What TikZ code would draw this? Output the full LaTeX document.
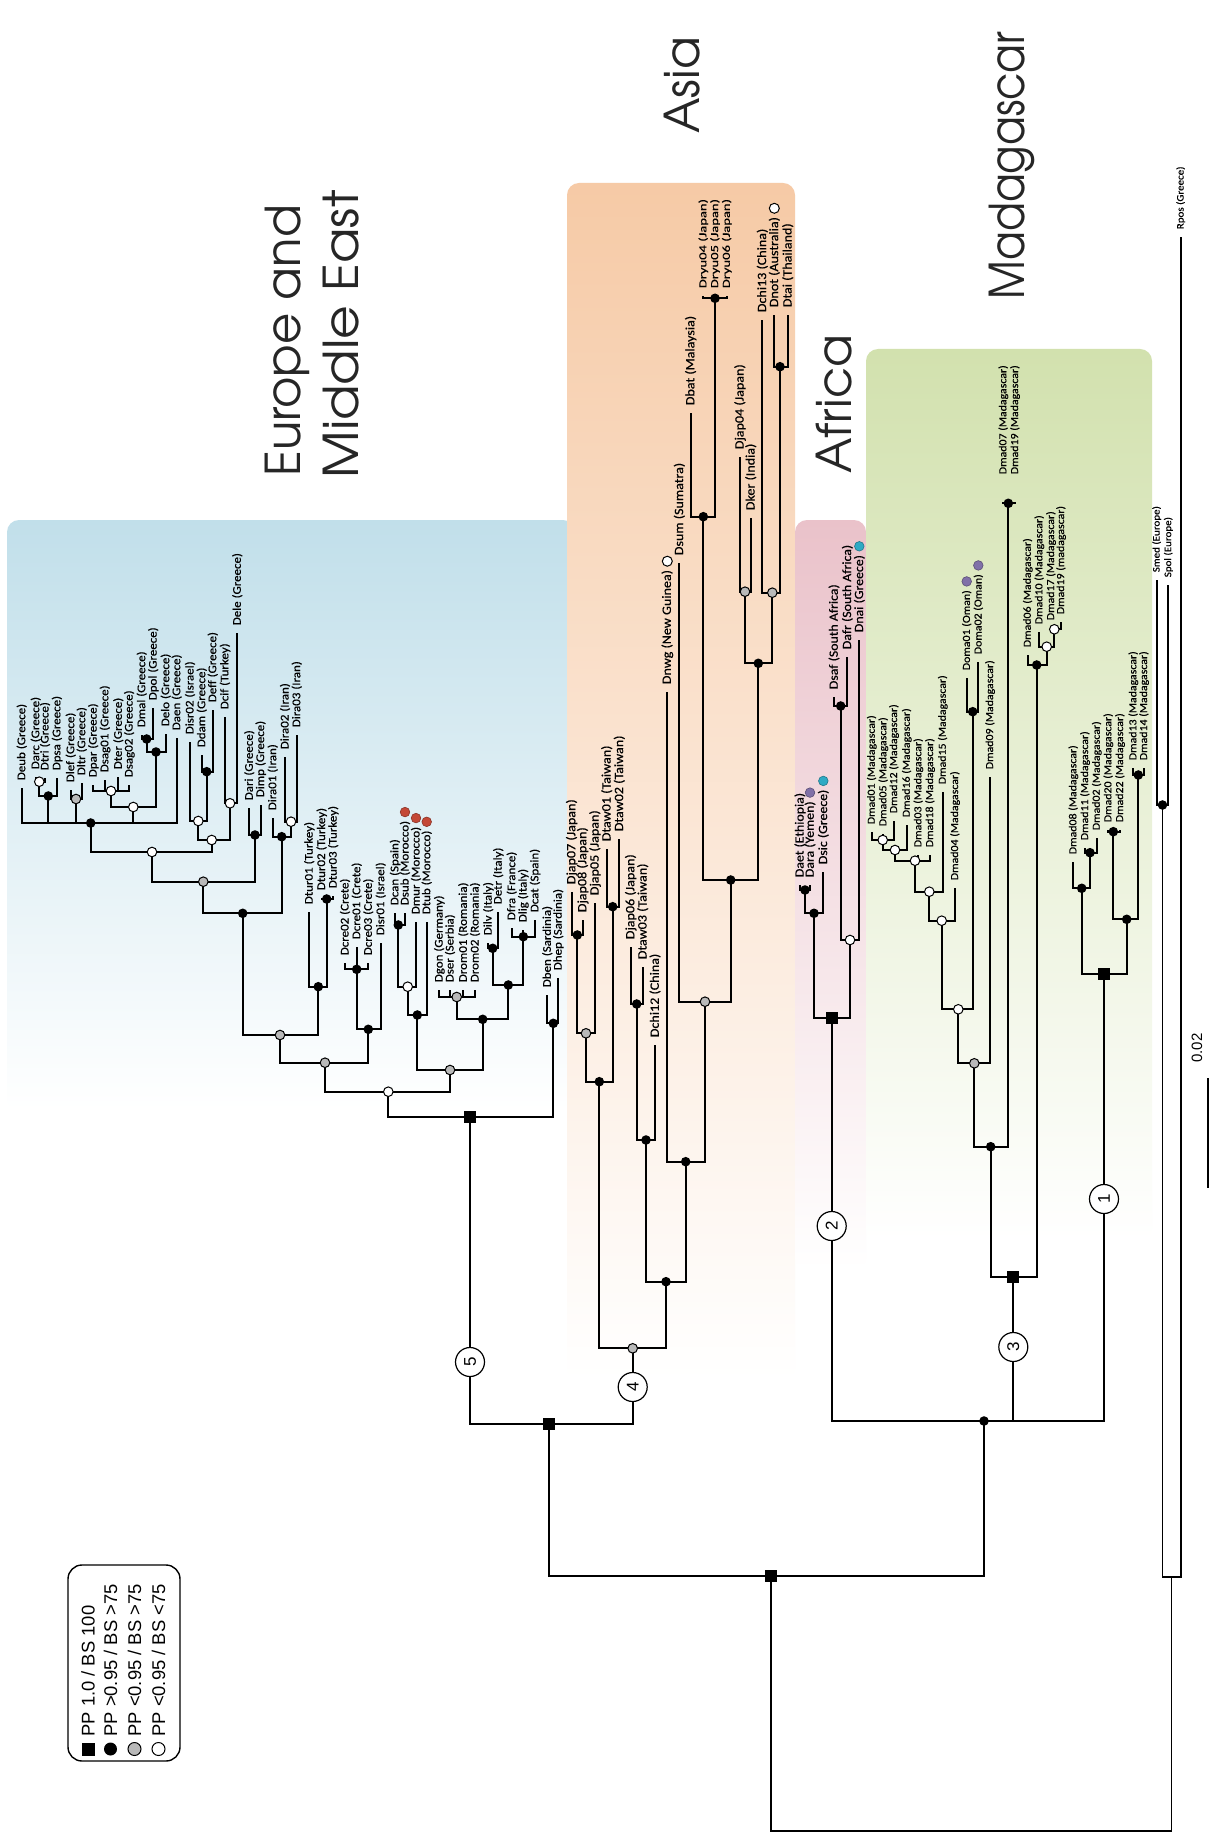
\documentclass[tikz,border=0pt]{standalone}
\usepackage{fontspec}
\setmainfont{Carlito}
\newfontfamily\labf[FakeStretch=1.1,FakeBold=0.5]{Carlito}
\newfontfamily\labw[FakeStretch=1.35,FakeBold=0.5]{Carlito}
\newfontfamily\arialf{Liberation Sans}
\newfontfamily\bigf{texgyreadventor-regular.otf}
\newfontfamily\bigfn[FakeStretch=0.88]{texgyreadventor-regular.otf}
\newfontfamily\bigfw[FakeStretch=1.08]{texgyreadventor-regular.otf}
\usetikzlibrary{calc}
\definecolor{eu}{RGB}{193,223,234}
\definecolor{as}{RGB}{246,202,166}
\definecolor{af}{RGB}{234,194,202}
\definecolor{ma}{RGB}{210,225,174}
\definecolor{redd}{RGB}{196,72,54}
\definecolor{purp}{RGB}{128,112,168}
\definecolor{cyanc}{RGB}{46,170,196}
\newcommand\tipx[6][0]{\coordinate (#2) at (#3,#4);\node[#5] (L#2) at ($(#2)+(0,-5-#1)$) {#6};}
\newcommand\edg[2]{\draw[tree] (#1) -| (#2);}
\newcommand\edt[2]{\draw[treethin] (#1) -| (#2);}
\newcommand\dotc[2]{\node[circle, fill=#2, draw=#2!70!black, line width=0.3pt, minimum size=4.8pt, inner sep=0pt] at ($(L#1.east)+(0,-6)$) {};}
\begin{document}
\begin{tikzpicture}[x=0.5pt,y=-0.5pt,
  tree/.style={line width=1.15pt, black},
  treethin/.style={line width=0.85pt, black},
  lab/.style={rotate=90, anchor=west, inner sep=1.2pt},
  labE/.style={lab, font=\labf\fontsize{5.9}{6.5}\selectfont},
  labA/.style={lab, font=\labf\fontsize{6.4}{7}\selectfont},
  labR/.style={lab, font=\labw\fontsize{5.4}{6}\selectfont},
  labF/.style={lab, font=\labf\fontsize{6.3}{7}\selectfont},
  labM/.style={lab, font=\labf\fontsize{5.4}{6}\selectfont},
  labO/.style={lab, font=\labf\fontsize{5}{6}\selectfont},
  bigt/.style={rotate=90, anchor=base west, inner sep=0pt, font=\bigf\fontsize{24}{27}\selectfont, black!85},
  sqm/.style={rectangle, fill=black, minimum size=6pt, inner sep=0pt},
  bcm/.style={circle, fill=black, minimum size=4.8pt, inner sep=0pt},
  gcm/.style={circle, fill=gray!55, draw=black, line width=0.5pt, minimum size=4.8pt, inner sep=0pt},
  wcm/.style={circle, fill=white, draw=black, line width=0.5pt, minimum size=4.8pt, inner sep=0pt},
  numc/.style={circle, draw=black, fill=white, line width=0.6pt, minimum size=14.5pt, inner sep=0pt, rotate=90, font=\arialf\fontsize{8.5}{9}\selectfont},
  legt/.style={rotate=90, anchor=west, inner sep=0pt, font=\arialf\fontsize{9.2}{10}\selectfont}]
\useasboundingbox (0,0) rectangle (1216,1834);
\fill[white] (0,0) rectangle (1216,1834);
% backgrounds
\shade[top color=eu, middle color=eu!55!white, bottom color=white, rounded corners=6pt] (7,520) rectangle (575,1110);
\shade[top color=as, middle color=as!55!white, bottom color=white, rounded corners=6pt] (567,183) rectangle (795,1380);
\shade[top color=af, middle color=af!55!white, bottom color=white, rounded corners=6pt] (795,520) rectangle (866,1270);
\shade[top color=ma, middle color=ma!55!white, bottom color=white, rounded corners=6pt] (866,349) rectangle (1152,1240);
% region titles
\node[bigt] (tEu1) at (300,477) {Europe and};
\node[bigt, font=\bigfw\fontsize{24}{27}\selectfont] (tEu2) at (358,479) {Middle East};
\node[bigt] (tAs) at (699,134) {Asia};
\node[bigt] (tAf) at (851,474) {Africa};
\node[bigt, font=\bigfn\fontsize{24}{27}\selectfont] (tMa) at (1024,300) {Madagascar};
% ---- tips: Europe
\tipx{deub}{21.7}{788}{labE}{Deub (Greece)}
\tipx{darc}{35.7}{777}{labE}{Darc (Greece)}
\tipx{dtri}{45}{778}{labE}{Dtri (Greece)}
\tipx{dpsa}{57}{778}{labE}{Dpsa (Greece)}
\tipx{dlef}{70.7}{790}{labE}{Dlef (Greece)}
\tipx{dltr}{81.7}{783}{labE}{Dltr (Greece)}
\tipx{dpar}{93.3}{785}{labE}{Dpar (Greece)}
\tipx{dsag01}{105}{780}{labE}{Dsag01 (Greece)}
\tipx{dter}{118.3}{777}{labE}{Dter (Greece)}
\tipx{dsag02}{129.3}{785}{labE}{Dsag02 (Greece)}
\tipx{dmal}{141.7}{735}{labE}{Dmal (Greece)}
\tipx{dpol}{153.3}{708}{labE}{Dpol (Greece)}
\tipx{delo}{165.7}{734}{labE}{Delo (Greece)}
\tipx{daen}{176.7}{738}{labE}{Daen (Greece)}
\tipx{disr02}{190}{742}{labE}{Disr02 (Israel)}
\tipx{ddam}{201.7}{755}{labE}{Ddam (Greece)}
\tipx{deff}{212.7}{710}{labE}{Deff (Greece)}
\tipx{dcif}{225}{717}{labE}{Dcif (Turkey)}
\tipx{dele}{237.3}{633}{labE}{Dele (Greece)}
\tipx{dari}{249.3}{808}{labE}{Dari (Greece)}
\tipx{dimp}{260.7}{805}{labE}{Dimp (Greece)}
\tipx{dira01}{272.7}{818}{labE}{Dira01 (Iran)}
\tipx{dira02}{285}{757}{labE}{Dira02 (Iran)}
\tipx{dira03}{296.7}{735}{labE}{Dira03 (Iran)}
\tipx{dtur01}{309.3}{912}{labE}{Dtur01 (Turkey)}
\tipx{dtur02}{321.7}{898}{labE}{Dtur02 (Turkey)}
\tipx{dtur03}{333.3}{896}{labE}{Dtur03 (Turkey)}
\tipx{dcre02}{345}{963}{labE}{Dcre02 (Crete)}
\tipx{dcre01}{356.7}{947}{labE}{Dcre01 (Crete)}
\tipx{dcre03}{368.3}{963}{labE}{Dcre03 (Crete)}
\tipx{disr01}{380.7}{943}{labE}{Disr01 (Israel)}
\tipx{dcan}{395}{913}{labE}{Dcan (Spain)}
\tipx{dsub}{405}{913}{labE}{Dsub (Morocco)}
\tipx{dmur}{416}{922}{labE}{Dmur (Morocco)}
\tipx{dtub}{426.7}{922}{labE}{Dtub (Morocco)}
\tipx{dgon}{439.3}{990}{labE}{Dgon (Germany)}
\tipx{dser}{450}{990}{labE}{Dser (Serbia)}
\tipx{drom01}{463.3}{990}{labE}{Drom01 (Romania)}
\tipx{drom02}{475}{990}{labE}{Drom02 (Romania)}
\tipx{dilv}{488.3}{943}{labE}{Dilv (Italy)}
\tipx{detr}{498.3}{912}{labE}{Detr (Italy)}
\tipx{dfra}{511.7}{928}{labE}{Dfra (France)}
\tipx{dlig}{523.3}{930}{labE}{Dlig (Italy)}
\tipx{dcat}{535}{920}{labE}{Dcat (Spain)}
\tipx{dben}{547.3}{995}{labE}{Dben (Sardinia)}
\tipx{dhep}{558.3}{978}{labE}{Dhep (Sardinia)}
% ---- tips: Asia
\tipx{djap07}{571.7}{892}{labA}{Djap07 (Japan)}
\tipx{djap08}{582.7}{920}{labA}{Djap08 (Japan)}
\tipx{djap05}{595}{903}{labA}{Djap05 (Japan)}
\tipx{dtaw01}{606.7}{849}{labA}{Dtaw01 (Taiwan)}
\tipx{dtaw02}{619.3}{839}{labA}{Dtaw02 (Taiwan)}
\tipx{djap06}{630.7}{947}{labA}{Djap06 (Japan)}
\tipx{dtaw03}{642.7}{967}{labA}{Dtaw03 (Taiwan)}
\tipx{dchi12}{655}{1045}{labA}{Dchi12 (China)}
\tipx{dnwg}{667.3}{692}{labA}{Dnwg (New Guinea)}
\tipx{dsum}{679.3}{563}{labA}{Dsum (Sumatra)}
\tipx{dbat}{690.7}{413}{labA}{Dbat (Malaysia)}
\tipx{dryu04}{703.3}{296}{labR}{Dryu04 (Japan)}
\tipx{dryu05}{715}{296}{labR}{Dryu05 (Japan)}
\tipx{dryu06}{726.7}{296}{labR}{Dryu06 (Japan)}
\tipx{djap04}{740}{457}{labA}{Djap04 (Japan)}
\tipx{dker}{750.7}{518}{labA}{Dker (India)}
\tipx{dchi13}{762.3}{320}{labA}{Dchi13 (China)}
\tipx{dnot}{774.3}{315}{labA}{Dnot (Australia)}
\tipx{dtai}{787.7}{315}{labA}{Dtai (Thailand)}
% ---- tips: Africa
\tipx{daet}{800}{885}{labF}{Daet (Ethiopia)}
\tipx{dara}{810}{885}{labF}{Dara (Yemen)}
\tipx{dsic}{823.3}{872}{labF}{Dsic (Greece)}
\tipx{dsaf}{834}{697}{labF}{Dsaf (South Africa)}
\tipx{dafr}{847.3}{657}{labF}{Dafr (South Africa)}
\tipx{dnai}{859.3}{640}{labF}{Dnai (Greece)}
% ---- tips: Madagascar
\tipx{dmad01}{871.7}{832}{labM}{Dmad01 (Madagascar)}
\tipx{dmad05}{883.3}{834}{labM}{Dmad05 (Madagascar)}
\tipx{dmad12}{894}{821}{labM}{Dmad12 (Madagascar)}
\tipx{dmad16}{906.7}{825}{labM}{Dmad16 (Madagascar)}
\tipx{dmad03}{918.3}{855}{labM}{Dmad03 (Madagascar)}
\tipx{dmad18}{930}{855}{labM}{Dmad18 (Madagascar)}
\tipx{dmad15}{942.7}{792}{labM}{Dmad15 (Madagascar)}
\tipx{dmad04}{955}{888}{labM}{Dmad04 (Madagascar)}
\tipx{doma01}{966.7}{678}{labM}{Doma01 (Oman)}
\tipx{doma02}{978.3}{662}{labM}{Doma02 (Oman)}
\tipx{dmad09}{990}{777}{labM}{Dmad09 (Madagascar)}
\tipx[20]{dmad07}{1003.3}{502}{labM}{Dmad07 (Madagascar)}
\tipx[20]{dmad19a}{1015}{502}{labM}{Dmad19 (Madagascar)}
\tipx{dmad06}{1027.7}{655}{labM}{Dmad06 (Madagascar)}
\tipx{dmad10}{1039.3}{632}{labM}{Dmad10 (Madagascar)}
\tipx{dmad17}{1051}{628}{labM}{Dmad17 (Madagascar)}
\tipx{dmad19b}{1061}{622}{labM}{Dmad19 (madagascar)}
\tipx{dmad08}{1073.3}{862}{labM}{Dmad08 (Madagascar)}
\tipx{dmad11}{1085}{848}{labM}{Dmad11 (Madagascar)}
\tipx{dmad02}{1096.7}{838}{labM}{Dmad02 (Madagascar)}
\tipx{dmad20}{1108.3}{830}{labM}{Dmad20 (Madagascar)}
\tipx{dmad22}{1120}{830}{labM}{Dmad22 (Madagascar)}
\tipx{dmad13}{1133.3}{768}{labM}{Dmad13 (Madagascar)}
\tipx{dmad14}{1144}{768}{labM}{Dmad14 (Madagascar)}
\tipx{smed}{1156.7}{580}{labO}{Smed (Europe)}
\tipx{spol}{1168.3}{585}{labO}{Spol (Europe)}
\tipx{rpos}{1180.7}{237}{labO}{Rpos (Greece)}
% ---- internal nodes
\coordinate (e1) at (39.3,781.7);
\coordinate (e2) at (48.3,796);
\coordinate (e3) at (76,799);
\coordinate (e4) at (111,791);
\coordinate (e5) at (146.7,739);
\coordinate (e6) at (156,752);
\coordinate (e7) at (133.3,807);
\coordinate (e8) at (90.7,823);
\coordinate (e9) at (206.7,771.7);
\coordinate (e10) at (198.3,821);
\coordinate (e11) at (230,803.3);
\coordinate (e12) at (211.7,840);
\coordinate (e13) at (152,852);
\coordinate (e14) at (255,835);
\coordinate (e15) at (291,821.7);
\coordinate (e16) at (281.7,836.7);
\coordinate (e17) at (203.3,881.7);
\coordinate (e18) at (242.7,913.3);
\coordinate (e19) at (326.7,899);
\coordinate (e20) at (318.3,986.7);
\coordinate (e21) at (280,1035);
\coordinate (e22) at (356.7,969.3);
\coordinate (e23) at (368.3,1029.3);
\coordinate (e24) at (325,1062.7);
\coordinate (e25) at (398.3,925);
\coordinate (e26) at (407.7,986.7);
\coordinate (e27) at (417.3,1015);
\coordinate (e28) at (456.7,997);
\coordinate (e29) at (492.7,948.3);
\coordinate (e30) at (523.3,936.7);
\coordinate (e31) at (508.3,985);
\coordinate (e32) at (482.7,1019.3);
\coordinate (e33) at (450,1070);
\coordinate (e34) at (388.3,1091.7);
\coordinate (e35) at (553.3,1023.3);
\coordinate (e36) at (470,1117.3);
\coordinate (t1) at (549,1424);
\coordinate (a1) at (577.3,935);
\coordinate (a2) at (586,1033.3);
\coordinate (a3) at (612.7,906.7);
\coordinate (a4) at (599.3,1081.7);
\coordinate (a5) at (636.7,1004);
\coordinate (a6) at (646,1140);
\coordinate (a7) at (715,298.3);
\coordinate (a8) at (703.3,516.7);
\coordinate (a9) at (745,591.7);
\coordinate (a10) at (780,366.7);
\coordinate (a11) at (772.3,592.7);
\coordinate (a12) at (758.3,663.3);
\coordinate (a13) at (730.7,880);
\coordinate (a14) at (705,1001.7);
\coordinate (a15) at (685.7,1161.7);
\coordinate (a16) at (666,1281.7);
\coordinate (a17) at (632.7,1348.3);
\coordinate (f1) at (805,890);
\coordinate (f2) at (814,913.3);
\coordinate (f3) at (840.7,706);
\coordinate (f4) at (850,940);
\coordinate (f5) at (831.7,1018.3);
\coordinate (m1) at (882.7,840);
\coordinate (m2) at (895,850);
\coordinate (m3) at (915,860.7);
\coordinate (m4) at (929.3,891.7);
\coordinate (m5) at (941.7,920.7);
\coordinate (m6) at (972.7,711.7);
\coordinate (m7) at (958.3,1009.3);
\coordinate (m8) at (974.3,1063.3);
\coordinate (m9) at (1008.3,503.3);
\coordinate (m10) at (990.7,1146.7);
\coordinate (m11) at (1054.3,629.3);
\coordinate (m12) at (1046.7,646.7);
\coordinate (m13) at (1036.7,665);
\coordinate (m14) at (1013.3,1277.3);
\coordinate (n1) at (1090,852.7);
\coordinate (n2) at (1081.7,888.3);
\coordinate (n3) at (1113.3,831.7);
\coordinate (n4) at (1138.3,775);
\coordinate (n5) at (1126.7,919.3);
\coordinate (n6) at (1104,974);
\coordinate (am) at (984,1421);
\coordinate (rt) at (771,1576);
\coordinate (o1) at (1162.5,805);
\coordinate (o2) at (1171.5,1577);
\coordinate (root) at (971,1831);
% ---- edges
\edg{e1}{darc}\edg{e1}{dtri}
\edg{e2}{e1}\edg{e2}{dpsa}
\edg{e3}{dlef}\edg{e3}{dltr}
\edg{e4}{dpar}\edg{e4}{dsag01}\edg{e4}{dter}\edg{e4}{dsag02}
\edg{e5}{dmal}\edg{e5}{dpol}
\edg{e6}{e5}\edg{e6}{delo}
\edg{e7}{e4}\edg{e7}{e6}
\edg{e8}{deub}\edg{e8}{e2}\edg{e8}{e3}\edg{e8}{e7}\edg{e8}{daen}
\edg{e9}{ddam}\edg{e9}{deff}
\edg{e10}{disr02}\edg{e10}{e9}
\edg{e11}{dcif}\edg{e11}{dele}
\edg{e12}{e10}\edg{e12}{e11}
\edg{e13}{e8}\edg{e13}{e12}
\edg{e14}{dari}\edg{e14}{dimp}
\edg{e15}{dira02}\edg{e15}{dira03}
\edg{e16}{dira01}\edg{e16}{e15}
\edg{e17}{e13}\edg{e17}{e14}
\edg{e18}{e17}\edg{e18}{e16}
\edg{e19}{dtur02}\edg{e19}{dtur03}
\edg{e20}{dtur01}\edg{e20}{e19}
\edg{e21}{e18}\edg{e21}{e20}
\edg{e22}{dcre02}\edg{e22}{dcre01}\edg{e22}{dcre03}
\edg{e23}{e22}\edg{e23}{disr01}
\edg{e24}{e21}\edg{e24}{e23}
\edg{e25}{dcan}\edg{e25}{dsub}
\edg{e26}{e25}\edg{e26}{dmur}
\edg{e27}{e26}\edg{e27}{dtub}
\edg{e28}{dgon}\edg{e28}{dser}\edg{e28}{drom01}\edg{e28}{drom02}
\edg{e29}{dilv}\edg{e29}{detr}
\edg{e30}{dfra}\edg{e30}{dlig}\edg{e30}{dcat}
\edg{e31}{e29}\edg{e31}{e30}
\edg{e32}{e28}\edg{e32}{e31}
\edg{e33}{e27}\edg{e33}{e32}
\edg{e34}{e24}\edg{e34}{e33}
\edg{e35}{dben}\edg{e35}{dhep}
\edg{e36}{e34}\edg{e36}{e35}
\edt{t1}{e36}\edt{t1}{a17}
\edg{a1}{djap07}\edg{a1}{djap08}
\edg{a2}{a1}\edg{a2}{djap05}
\edg{a3}{dtaw01}\edg{a3}{dtaw02}
\edg{a4}{a2}\edg{a4}{a3}
\edg{a5}{djap06}\edg{a5}{dtaw03}
\edg{a6}{a5}\edg{a6}{dchi12}
\edg{a7}{dryu04}\edg{a7}{dryu05}\edg{a7}{dryu06}
\edg{a8}{dbat}\edg{a8}{a7}
\edg{a9}{djap04}\edg{a9}{dker}
\edg{a10}{dnot}\edg{a10}{dtai}
\edg{a11}{dchi13}\edg{a11}{a10}
\edg{a12}{a9}\edg{a12}{a11}
\edg{a13}{a8}\edg{a13}{a12}
\edg{a14}{dsum}\edg{a14}{a13}
\edg{a15}{dnwg}\edg{a15}{a14}
\edg{a16}{a6}\edg{a16}{a15}
\edg{a17}{a4}\edg{a17}{a16}
\edg{f1}{daet}\edg{f1}{dara}
\edg{f2}{f1}\edg{f2}{dsic}
\edg{f3}{dsaf}\edg{f3}{dafr}
\edg{f4}{f3}\edg{f4}{dnai}
\edg{f5}{f2}\edg{f5}{f4}
\edg{m1}{dmad01}\edg{m1}{dmad05}\edg{m1}{dmad12}
\edg{m2}{m1}\edg{m2}{dmad16}
\edg{m3}{m2}\edg{m3}{dmad03}\edg{m3}{dmad18}
\edg{m4}{m3}\edg{m4}{dmad15}
\edg{m5}{m4}\edg{m5}{dmad04}
\edg{m6}{doma01}\edg{m6}{doma02}
\edg{m7}{m5}\edg{m7}{m6}
\edg{m8}{m7}\edg{m8}{dmad09}
\edg{m9}{dmad07}\edg{m9}{dmad19a}
\edg{m10}{m8}\edg{m10}{m9}
\edg{m11}{dmad17}\edg{m11}{dmad19b}
\edg{m12}{dmad10}\edg{m12}{m11}
\edg{m13}{dmad06}\edg{m13}{m12}
\edg{m14}{m10}\edg{m14}{m13}
\edg{n1}{dmad11}\edg{n1}{dmad02}
\edg{n2}{dmad08}\edg{n2}{n1}
\edg{n3}{dmad20}\edg{n3}{dmad22}
\edg{n4}{dmad13}\edg{n4}{dmad14}
\edg{n5}{n3}\edg{n5}{n4}
\edg{n6}{n2}\edg{n6}{n5}
\edt{am}{f5}\edt{am}{m14}\edt{am}{n6}
\edt{rt}{t1}\edt{rt}{am}
\edg{o1}{smed}\edg{o1}{spol}
\edt{o2}{o1}\edt{o2}{rpos}
\edt{root}{rt}\edt{root}{o2}
% ---- markers
\foreach \n in {e2,e5,e6,e8,e9,e14,e16,e18,e19,e20,e22,e23,e25,e27,e29,e30,e31,e32,e35,a1,a3,a4,a5,a6,a7,a8,a10,a12,a13,a15,a16,f1,f2,f3,m6,m9,m10,m13,n1,n2,n3,n4,n5,am,o1}
  \node[bcm] at (\n) {};
\foreach \n in {e3,e17,e21,e24,e28,e33,a2,a9,a11,a14,a17,m8}
  \node[gcm] at (\n) {};
\foreach \n in {e1,e4,e7,e10,e11,e12,e13,e15,e26,e34,f4,m1,m2,m3,m4,m5,m7,m11,m12}
  \node[wcm] at (\n) {};
\foreach \n in {e36,t1,f5,m14,n6,rt}
  \node[sqm] at (\n) {};
% ---- coloured dots
\dotc{dsub}{redd}\dotc{dmur}{redd}\dotc{dtub}{redd}
\dotc{dara}{purp}\dotc{doma01}{purp}\dotc{doma02}{purp}
\dotc{dsic}{cyanc}\dotc{dnai}{cyanc}
\node[wcm, minimum size=5pt] at ($(Ldnwg.east)+(0,-6)$) {};
\node[wcm, minimum size=5pt] at ($(Ldnot.east)+(0,-6)$) {};
% ---- numbered clades
\node[numc] (c5) at (470,1362) {5};
\node[numc] (c4) at (632.7,1387) {4};
\node[numc] (c2) at (831.7,1226) {2};
\node[numc] (c3) at (1013.3,1347) {3};
\node[numc] (c1) at (1104,1199) {1};
% ---- scale bar
\draw[line width=0.9pt] (1208,1078) -- (1208,1188);
\node[rotate=90, font=\arialf\fontsize{7.5}{8}\selectfont, inner sep=0pt] (sc) at (1197,1048) {0.02};
% ---- legend
\draw[line width=0.7pt, rounded corners=7pt] (68,1565) rectangle (180,1761);
\node[sqm, minimum size=6.5pt] at (88,1749) {};
\node[bcm, minimum size=6.5pt] at (110.5,1749) {};
\node[gcm, minimum size=6.5pt] at (134.5,1749) {};
\node[wcm, minimum size=6.5pt] at (158.5,1749) {};
\node[legt] at (88,1737) {PP 1.0 / BS 100};
\node[legt] at (110.5,1737) {PP >0.95 / BS >75};
\node[legt] at (134.5,1737) {PP <0.95 / BS >75};
\node[legt] at (158.5,1737) {PP <0.95 / BS <75};
\end{tikzpicture}
\end{document}
